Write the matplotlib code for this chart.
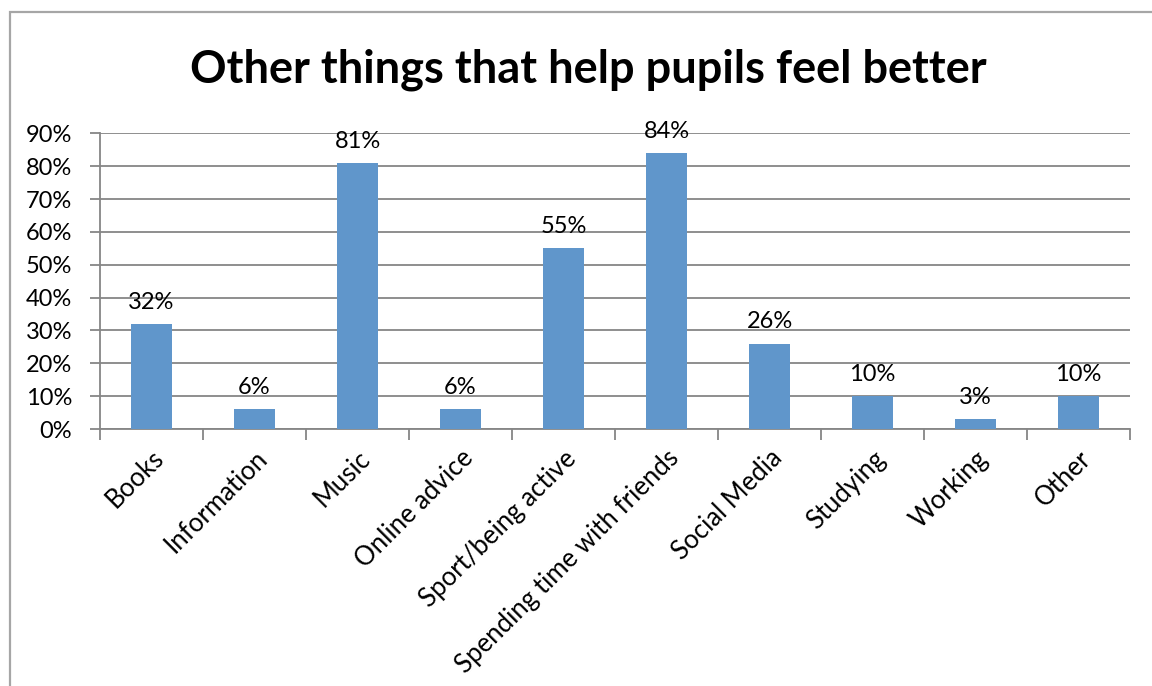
import matplotlib
matplotlib.use("Agg")
import matplotlib.pyplot as plt
from matplotlib.patches import Rectangle
from matplotlib.ticker import MultipleLocator, FuncFormatter

plt.rcParams['font.family'] = ['Lato', 'DejaVu Sans']

categories = ["Books", "Information", "Music", "Online advice", "Sport/being active",
              "Spending time with friends", "Social Media", "Studying", "Working", "Other"]
percentages = [32, 6, 81, 6, 55, 84, 26, 10, 3, 10]

W, H = 1152, 686
fig = plt.figure(figsize=(W / 100, H / 100), dpi=100)

# chart area border (runs off the right and bottom edges)
fig.patches.append(Rectangle((10 / W, -0.1), 1.2, 1 - 12 / H + 0.1, transform=fig.transFigure,
                             fill=False, edgecolor='#a6a6a6', linewidth=1.6))

ax = fig.add_axes([100 / W, 257 / H, 1030 / W, (552.7 - 257) / H])

x = range(len(categories))
vals = [p / 100 for p in percentages]
ax.bar(x, vals, width=0.39, color='#6096cb', zorder=3)

for xi, v, p in zip(x, vals, percentages):
    ax.annotate("%d%%" % p, (xi, v), xytext=(0, 8), textcoords='offset points',
                ha='center', va='bottom', fontsize=17, color='#000000', clip_on=False)

ax.set_xlim(-0.5, len(categories) - 0.5)
ax.set_ylim(0, 0.9)
ax.yaxis.set_major_locator(MultipleLocator(0.1))
ax.yaxis.set_major_formatter(FuncFormatter(lambda v, pos: "%d%%" % round(v * 100)))
ax.grid(axis='y', color='#868686', linewidth=1.3, zorder=0)

for s in ['top', 'right']:
    ax.spines[s].set_visible(False)
ax.spines['left'].set_color('#868686')
ax.spines['bottom'].set_color('#868686')
ax.spines['left'].set_linewidth(1.3)
ax.spines['bottom'].set_linewidth(1.3)

ax.tick_params(axis='y', length=7, width=1.3, color='#868686', labelsize=17, pad=13)
ax.set_xticks([i - 0.5 for i in range(len(categories) + 1)], minor=False)
ax.set_xticklabels([])
ax.tick_params(axis='x', which='major', length=8, width=1.3, color='#868686')
ax.set_xticks(list(x), minor=True)
ax.set_xticklabels(categories, minor=True, rotation=45, ha='right', va='top',
                   rotation_mode='anchor', fontsize=18.5)
ax.tick_params(axis='x', which='minor', length=0, pad=12)

fig.text(588 / W, 1 - 70 / H, "Other things that help pupils feel better",
         ha='center', va='center', fontsize=32.5, fontweight='bold')

fig.savefig("out.png", dpi=100)
